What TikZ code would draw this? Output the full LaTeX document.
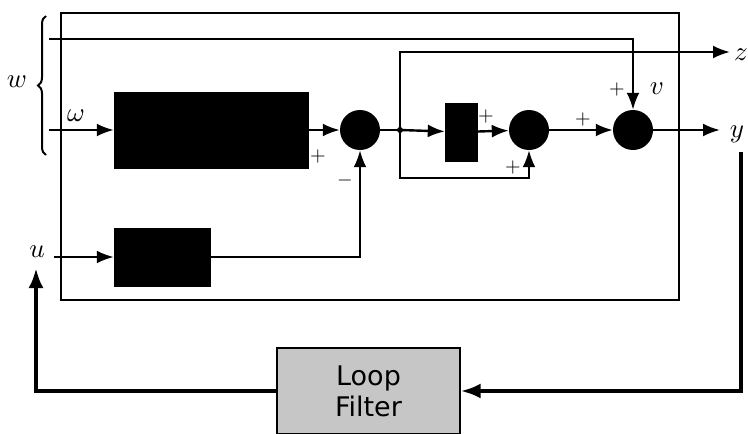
\documentclass[tikz,border=0pt]{standalone}
\usepackage{graphicx}
\usepackage{fontspec}
\newfontfamily\filtfont{DejaVu Sans}
\usetikzlibrary{arrows.meta, positioning, decorations.pathreplacing}

\newcommand{\bigvar}[1]{\scalebox{2.7}{$#1$}}
\newcommand{\bigsgn}[1]{\scalebox{2}{$#1$}}

\begin{document}
\begin{tikzpicture}[
	x=1pt, y=-1pt,
	blk/.style={draw, fill=black, inner sep=0pt},
	sumnode/.style={circle, fill=black, minimum size=40pt, inner sep=0pt},
	sig/.style={line width=2.4pt, -{Latex[length=17pt, width=13pt]}},
	wire/.style={line width=2.4pt},
	loopsig/.style={line width=4pt, -{Latex[length=20pt, width=15pt]}},
	var/.style={inner sep=0pt},
	sgn/.style={inner sep=0pt}
]

\useasboundingbox (0,0) rectangle (748,434);

% plant frame
\draw[line width=1.2pt] (61,13) rectangle (679,300);

% blocks
\node[blk, minimum width=194pt, minimum height=76pt] (blk1) at (211,130) {};
\node[blk, minimum width=32pt, minimum height=58pt] (blk2) at (461,132) {};
\node[blk, minimum width=96pt, minimum height=58pt] (blk3) at (162,257) {};
\node[sumnode] (sum1) at (360,130) {};
\node[sumnode] (sum2) at (529,130) {};
\node[sumnode] (sum3) at (633,130) {};
\node[draw, line width=1.2pt, fill=gray!45, minimum width=183pt, minimum height=86pt,
	align=center, font=\filtfont\fontsize{27}{31}\selectfont] (filt) at (368.5,391) {Loop\\Filter};

% end points
\coordinate (wtop) at (49,39);
\coordinate (wom) at (49,130);
\coordinate (br) at (400,130);
\coordinate (fbk) at (400,178);
\coordinate (zout) at (730,52);
\coordinate (yout) at (720,130);
\coordinate (uin) at (54,257);
\coordinate (ystart) at (741,152);
\coordinate (uarr) at (36,268);

% signal paths
\draw[sig] (wom) -- (blk1);
\draw[sig] (blk1) -- (sum1);
\draw[sig] (uin) -- (blk3);
\draw[sig] (blk3.east) -| (sum1.south);
\draw[wire] (sum1) -- (br);
\fill (br) circle (3pt);
\draw[sig] (br) -- (blk2);
\draw[sig] (blk2) -- (sum2);
\draw[sig] (br) -- (fbk) -| (sum2.south);
\draw[sig] (br) |- (zout);
\draw[sig] (sum2) -- (sum3);
\draw[sig] (wtop) -| (sum3.north);
\draw[sig] (sum3) -- (yout);

% outer loop
\draw[loopsig] (ystart) |- (filt.east);
\draw[loopsig] (filt.west) -| (uarr);

% brace for w
\draw[line width=2pt, decorate, decoration={brace, amplitude=8pt}] (46,155) -- (46,16);

% labels
\node[var] (lw) at (17,82) {\bigvar{w}};
\node[var] (lom) at (76,116) {\bigvar{\omega}};
\node[var] (lu) at (37,252) {\bigvar{u}};
\node[var] (lz) at (741,55) {\bigvar{z}};
\node[var] (ly) at (737,134) {\bigvar{y}};
\node[var] (lv) at (657,89) {\bigvar{v}};
\node[sgn] (s1) at (318,156) {\bigsgn{+}};
\node[sgn] (s2) at (345,180) {\bigsgn{-}};
\node[sgn] (s3) at (486,116) {\bigsgn{+}};
\node[sgn] (s4) at (513,167) {\bigsgn{+}};
\node[sgn] (s5) at (583,119) {\bigsgn{+}};
\node[sgn] (s6) at (617,89) {\bigsgn{+}};

\end{tikzpicture}
\end{document}
